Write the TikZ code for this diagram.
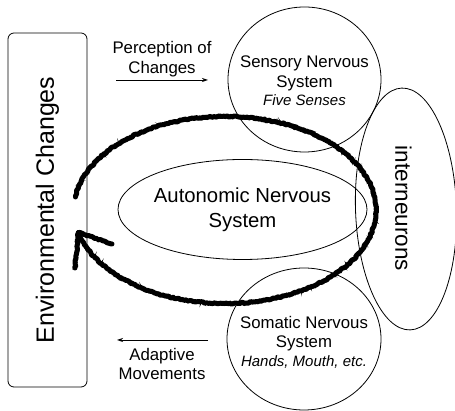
\documentclass[tikz,border=0pt]{standalone}
\usepackage{fontspec}
\setmainfont{Liberation Sans}
\usetikzlibrary{decorations.pathmorphing,arrows.meta}
\newcommand{\subline}[1]{{\fontsize{15}{18}\selectfont\itshape #1}}
\begin{document}
\begin{tikzpicture}[x=1pt,y=1pt,
  every node/.style={inner sep=0pt, outer sep=0pt},
  small/.style={font=\fontsize{16.8}{19.5}\selectfont, align=center},
  thin arrow/.style={line width=0.8pt, -{Stealth[length=6pt,width=4pt]}},
  rough/.style={line width=5pt, line cap=round, line join=round, decorate,
    decoration={random steps, segment length=1.5pt, amplitude=0.7pt}},
  scratch/.style={line width=1.2pt, line cap=round, decorate,
    decoration={random steps, segment length=1pt, amplitude=1.4pt}}]
\pgfmathsetseed{7}
\useasboundingbox (0,0) rectangle (455,411);
% environmental box
\draw[line width=0.8pt, rounded corners=6pt] (8,24) rectangle (87,378);
\node[rotate=90, font=\fontsize{25}{28}\selectfont] (env) at (47.5,201) {Environmental Changes};
% ellipses
\draw[line width=0.8pt] (304.5,331.5) ellipse [x radius=76.5, y radius=72.5];
\draw[line width=0.8pt, rotate around={2:(406,202)}] (406,202) ellipse [x radius=50.5, y radius=121];
\draw[line width=0.8pt] (242.5,201.5) ellipse [x radius=124.5, y radius=50];
\draw[line width=0.8pt] (304,72) ellipse [x radius=77, y radius=71];
% texts
\node[small] (sens) at (304.5,330) {Sensory Nervous\\System\\[-1pt]\subline{Five Senses}};
\node[small] (soma) at (304,68.7) {Somatic Nervous\\System\\[-1pt]\subline{Hands, Mouth, etc.}};
\node[font=\fontsize{20.3}{25}\selectfont, align=center] (auto) at (242.5,201) {Autonomic Nervous\\System};
\node[rotate=-90, font=\fontsize{22.5}{25}\selectfont] (inter) at (403.5,202.5) {interneurons};
\node[small] (perc) at (162,352) {Perception of\\Changes};
\node[small] (adap) at (162,47) {Adaptive\\Movements};
% thin arrows
\coordinate (p1) at (116,331);
\coordinate (p2) at (208,331);
\coordinate (a1) at (208,71);
\coordinate (a2) at (117,71);
\draw[thin arrow] (p1) -- (p2);
\draw[thin arrow] (a1) -- (a2);
% rough loop
\coordinate (c) at (225,201);
\draw[rough] (c) ++(172:151 and 93.5) arc[start angle=172, end angle=-166, x radius=151, y radius=93.5] coordinate (tip);
\draw[scratch] (c) ++(172:151 and 93.5) arc[start angle=172, end angle=-166, x radius=151, y radius=93.5];
\coordinate (barbA) at (75,143);
\coordinate (barbB) at (112,167);
\draw[rough] (tip) -- (barbA);
\draw[rough] (tip) -- (barbB);
\draw[scratch] (tip) -- (barbA);
\draw[scratch] (tip) -- (barbB);
\end{tikzpicture}
\end{document}
